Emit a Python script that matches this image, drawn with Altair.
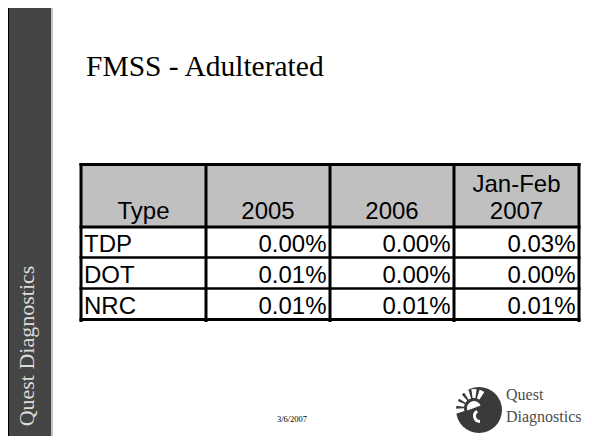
import math
import altair as alt
import pandas as pd

# ---------------- data ----------------
types = ["TDP", "DOT", "NRC"]
columns = ["2005", "2006", "Jan-Feb 2007"]
v2005 = [0.0000, 0.0001, 0.0001]
v2006 = [0.0000, 0.0000, 0.0001]
v2007 = [0.0003, 0.0000, 0.0001]
first_header = "Type"
title_text = "FMSS - Adulterated"
side_text = "Quest Diagnostics"
date_text = "3/6/2007"
logo_lines = ["Quest", "Diagnostics"]

# ---------------- layout ----------------
W, H, M = 592, 444, 8
VW, VH = W - 2 * M, H - 2 * M
col_edges = [81, 206, 330, 454, 579]
row_edges = [164.5, 227, 257.5, 288.5, 319.5]
FONT_TABLE = "Liberation Sans"
FONT_SERIF = "Liberation Serif"

# 1 data unit = 1 page pixel; the view starts at the page margin
xs = alt.Scale(domain=[M, M + VW], nice=False, zero=False)
ys = alt.Scale(domain=[M, M + VH], nice=False, zero=False, reverse=True)


def X(f):
    return alt.X(f, type="quantitative", scale=xs, axis=None)


def Y(f):
    return alt.Y(f, type="quantitative", scale=ys, axis=None)


# background blocks
rects = pd.DataFrame([
    dict(x=6, x2=9, y=3, y2=H, c="#000000"),
    dict(x=9, x2=51, y=6, y2=H, c="#454545"),
    dict(x=51, x2=53, y=6, y2=H, c="#c4c4c4"),
    dict(x=col_edges[0], x2=col_edges[-1], y=row_edges[0], y2=row_edges[1], c="#c0c0c0"),
])
rect_layer = alt.Chart(rects).mark_rect().encode(
    x=X("x"), x2="x2", y=Y("y"), y2="y2", color=alt.Color("c:N", scale=None)
)

# table grid lines
lines = []
for i, ry in enumerate(row_edges):
    sw = 3 if i in (0, 1, len(row_edges) - 1) else 2.5
    lines.append(dict(x=col_edges[0] - 1.5, x2=col_edges[-1] + 1.5, y=ry, y2=ry, sw=sw))
for cx in col_edges:
    lines.append(dict(x=cx, x2=cx, y=row_edges[0] - 1.5, y2=row_edges[-1] + 2.5, sw=3))
rule_layer = alt.Chart(pd.DataFrame(lines)).mark_rule(color="#000000").encode(
    x=X("x"), x2="x2", y=Y("y"), y2="y2", strokeWidth=alt.StrokeWidth("sw:Q", scale=None)
)

# header text
header = [first_header] + columns
hdr = []
for j, h in enumerate(header):
    parts = h.split(" ")
    cx = (col_edges[j] + col_edges[j + 1]) / 2
    base = row_edges[1] - 8.5
    for k, p in enumerate(reversed(parts)):
        hdr.append(dict(x=cx, y=base - 27 * k, t=p))
hdr_layer = alt.Chart(pd.DataFrame(hdr)).mark_text(
    font=FONT_TABLE, fontSize=24, align="center", baseline="alphabetic", color="#000000"
).encode(x=X("x"), y=Y("y"), text="t:N")

# row labels and values
names = []
vals = []
series = [v2005, v2006, v2007]
for i, t in enumerate(types):
    base = row_edges[i + 2] - 6
    names.append(dict(x=col_edges[0] + 3, y=base, t=t))
    for j, s in enumerate(series):
        vals.append(dict(x=col_edges[j + 2] - 3.5, y=base, v=s[i]))
name_layer = alt.Chart(pd.DataFrame(names)).mark_text(
    font=FONT_TABLE, fontSize=24, align="left", baseline="alphabetic", color="#000000"
).encode(x=X("x"), y=Y("y"), text="t:N")
val_layer = alt.Chart(pd.DataFrame(vals)).mark_text(
    font=FONT_TABLE, fontSize=24, align="right", baseline="alphabetic", color="#000000"
).encode(x=X("x"), y=Y("y"), text=alt.Text("v:Q", format=".2%"))

# title
title_layer = alt.Chart(pd.DataFrame([dict(x=86, y=76, t=title_text)])).mark_text(
    font=FONT_SERIF, fontSize=29.5, align="left", baseline="alphabetic", color="#000000"
).encode(x=X("x"), y=Y("y"), text="t:N")

# sidebar text
side_layer = alt.Chart(pd.DataFrame([dict(x=34, y=346, t=side_text)])).mark_text(
    font=FONT_SERIF, fontSize=22, align="center", baseline="alphabetic", angle=270,
    color="#dcdcdc"
).encode(x=X("x"), y=Y("y"), text="t:N")

# date
date_layer = alt.Chart(pd.DataFrame([dict(x=292, y=422, t=date_text)])).mark_text(
    font=FONT_SERIF, fontSize=8.5, align="center", baseline="alphabetic", color="#000000"
).encode(x=X("x"), y=Y("y"), text="t:N")

# logo text
logo_txt = pd.DataFrame([
    dict(x=506, y=400, t=logo_lines[0]),
    dict(x=506, y=422, t=logo_lines[1]),
])
logo_text_layer = alt.Chart(logo_txt).mark_text(
    font=FONT_SERIF, fontSize=16, align="left", baseline="alphabetic", color="#4d4d4d"
).encode(x=X("x"), y=Y("y"), text="t:N")

# logo emblem
deg = math.pi / 180
arcs = [dict(x=479, y=410, t1=0, t2=2 * math.pi, r1=0, r2=23, c="#3a3a3a")]
for a in [-100, -75, -50, -25, 0, 25]:
    arcs.append(dict(x=474, y=408, t1=(a - 8) * deg, t2=(a + 8) * deg, r1=10, r2=19, c="#ffffff"))
arcs.append(dict(x=474, y=408, t1=-110 * deg, t2=70 * deg, r1=0, r2=7, c="#ffffff"))
arcs.append(dict(x=480, y=416, t1=180 * deg, t2=330 * deg, r1=4, r2=7, c="#ffffff"))
logo_layer = alt.Chart(pd.DataFrame(arcs)).mark_arc().encode(
    x=X("x"), y=Y("y"),
    theta=alt.Theta("t1:Q", scale=None), theta2="t2:Q",
    radius=alt.Radius("r1:Q", scale=None), radius2="r2:Q",
    color=alt.Color("c:N", scale=None),
)

chart = alt.layer(
    rect_layer, rule_layer, hdr_layer, name_layer, val_layer, title_layer,
    side_layer, date_layer, logo_layer, logo_text_layer,
).properties(
    width=VW, height=VH,
    autosize=alt.AutoSizeParams(type="none"), padding=0,
).configure(
    background="#ffffff", view=alt.ViewConfig(stroke=None)
)

chart.save("out.html", embed_options={"renderer": "svg", "actions": False})
